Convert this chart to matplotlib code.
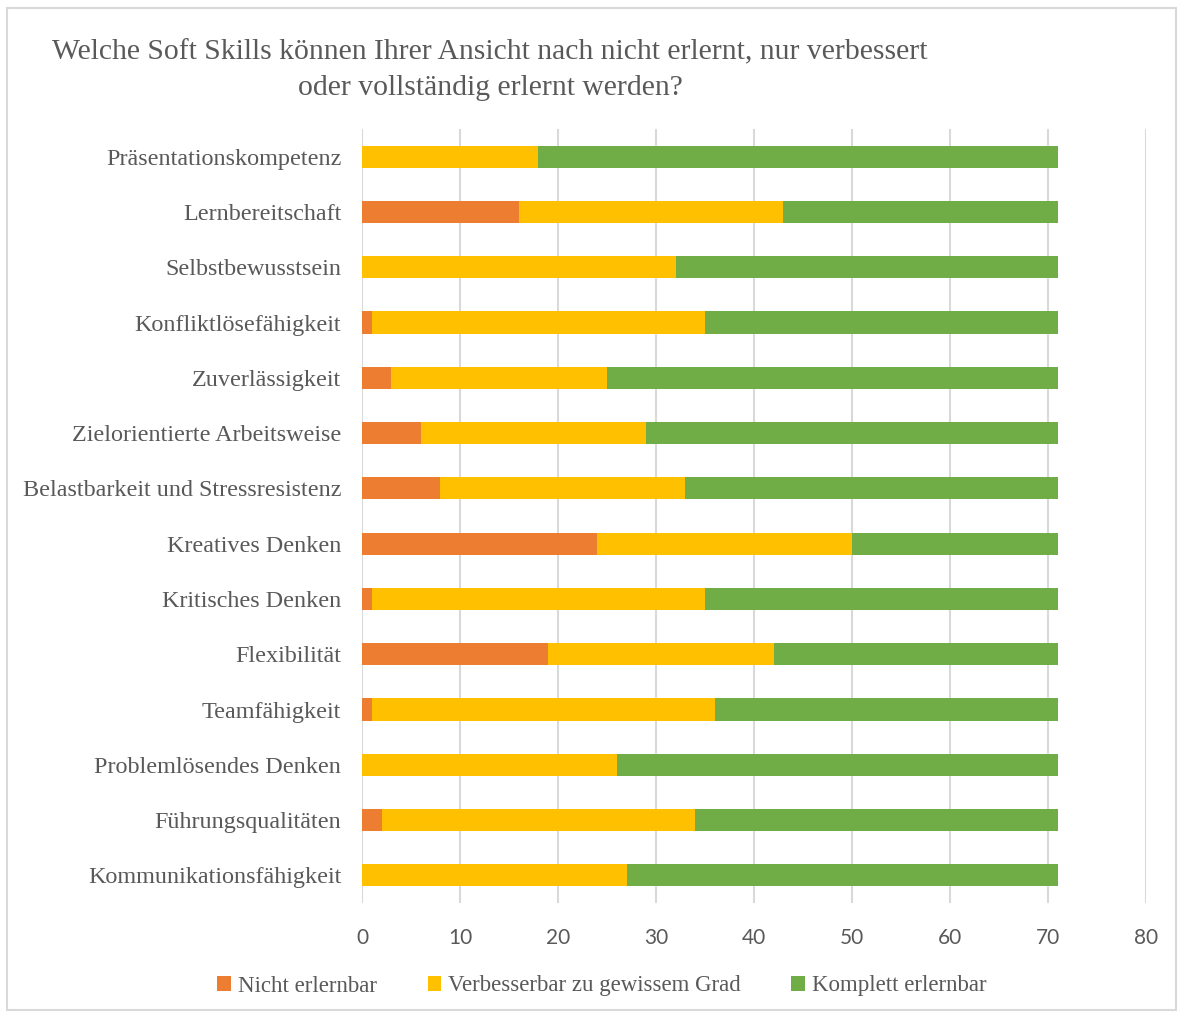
import matplotlib.pyplot as plt
from matplotlib.patches import Rectangle

skills = ["Präsentationskompetenz", "Lernbereitschaft", "Selbstbewusstsein",
          "Konfliktlösefähigkeit", "Zuverlässigkeit", "Zielorientierte Arbeitsweise",
          "Belastbarkeit und Stressresistenz", "Kreatives Denken", "Kritisches Denken",
          "Flexibilität", "Teamfähigkeit", "Problemlösendes Denken",
          "Führungsqualitäten", "Kommunikationsfähigkeit"]
nicht = [0, 16, 0, 1, 3, 6, 8, 24, 1, 19, 1, 0, 2, 0]
verbesserbar = [18, 27, 32, 34, 22, 23, 25, 26, 34, 23, 35, 26, 32, 27]
komplett = [53, 28, 39, 36, 46, 42, 38, 21, 36, 29, 35, 45, 37, 44]

ticks = [0, 10, 20, 30, 40, 50, 60, 70, 80]
serif = "Liberation Serif"
grey = "#595959"

fig = plt.figure(figsize=(11.83, 10.19), dpi=100)
W, H = 1183, 1019
ax = fig.add_axes([362 / W, 1 - 903 / H, (1146 - 362) / W, (903 - 129) / H])

y = list(range(len(skills)))
left2 = [a + b for a, b in zip(nicht, verbesserbar)]
h = 0.4
ax.barh(y, nicht, height=h, color="#ED7D31", label="Nicht erlernbar", zorder=3)
ax.barh(y, verbesserbar, left=nicht, height=h, color="#FFC000",
        label="Verbesserbar zu gewissem Grad", zorder=3)
ax.barh(y, komplett, left=left2, height=h, color="#70AD47",
        label="Komplett erlernbar", zorder=3)

ax.set_ylim(len(skills) - 0.5, -0.5)
ax.set_xlim(0, 80)
ax.set_yticks(y)
ax.set_yticklabels(skills, fontfamily=serif, fontsize=17.4, color=grey)
ax.set_xticks(ticks)
ax.set_xticklabels([str(t) for t in ticks], fontfamily="Lato", fontsize=15, color=grey)
ax.tick_params(axis="y", length=0, pad=15)
ax.tick_params(axis="x", length=0, pad=18)
ax.grid(axis="x", color="#D9D9D9", linewidth=1.5, zorder=0)
for s in ax.spines.values():
    s.set_visible(False)

fig.text(490 / W, 1 - 70 / H,
         "Welche Soft Skills können Ihrer Ansicht nach nicht erlernt, nur verbessert\n"
         "oder vollständig erlernt werden?",
         ha="center", va="center", fontfamily=serif, fontsize=21.3, color=grey,
         linespacing=1.5)

fig.legend(loc="center", bbox_to_anchor=(602 / W, 1 - 986 / H), ncol=3, frameon=False,
           prop={"family": serif, "size": 16.5}, labelcolor=grey,
           handlelength=0.6, handleheight=0.6, handletextpad=0.3, columnspacing=2.2)

fig.patches.append(Rectangle((7 / W, 1 - 1010 / H), (1176 - 7) / W, (1010 - 8) / H,
                             transform=fig.transFigure, fill=False,
                             edgecolor="#D9D9D9", linewidth=1.5))

fig.savefig("out.png", dpi=100, facecolor="white")
